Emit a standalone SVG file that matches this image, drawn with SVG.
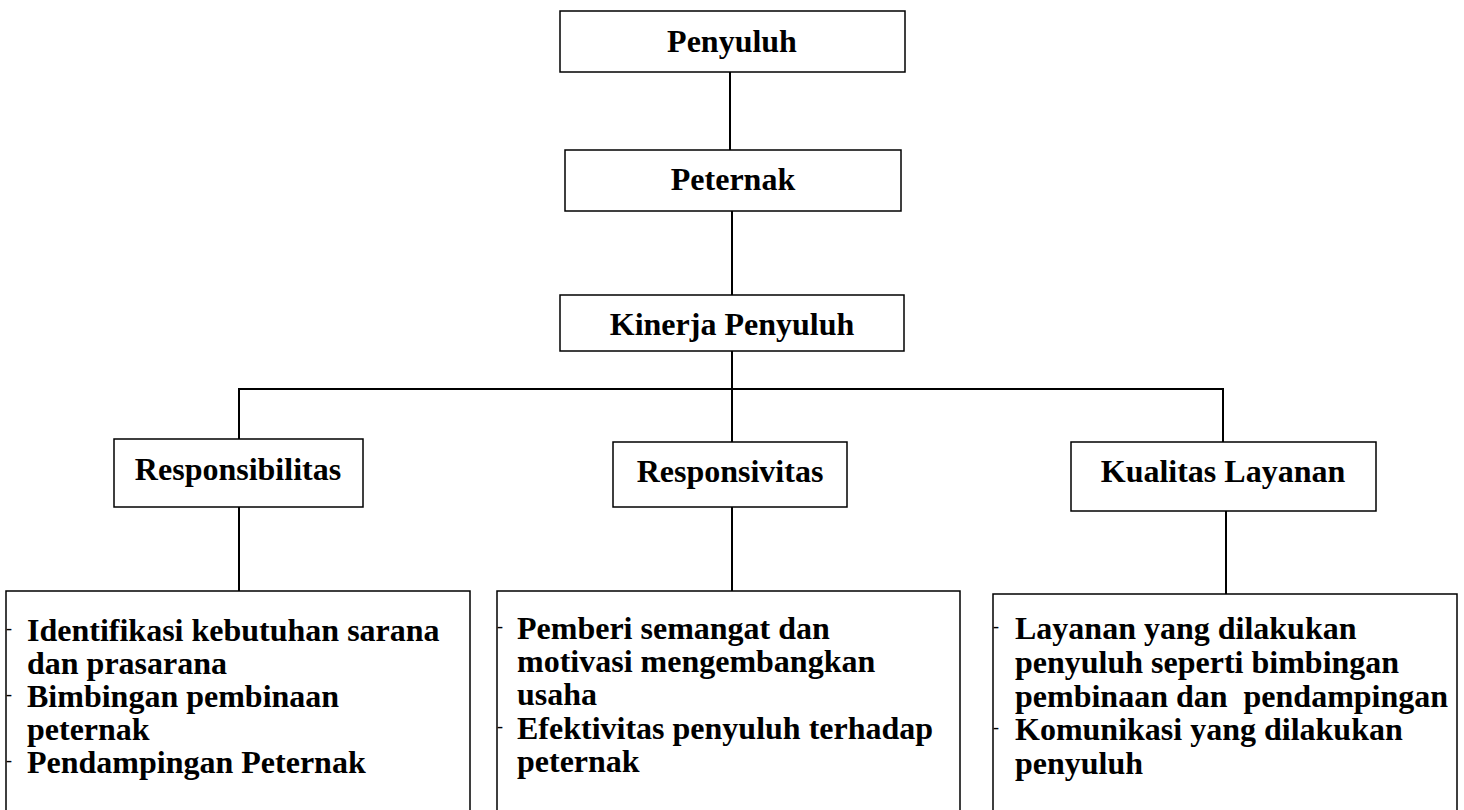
<svg xmlns="http://www.w3.org/2000/svg" width="1464" height="810" viewBox="0 0 1464 810">
<style>
.box{fill:#fff;stroke:#000;stroke-width:1.5}
.open{fill:#fff;stroke:#000;stroke-width:1.5}
.t{font-family:"Liberation Serif","Times New Roman",serif;font-weight:bold;font-size:32px;fill:#000}
.d{font-family:"Liberation Serif","Times New Roman",serif;font-weight:normal;font-size:18px;fill:#000}
.c{text-anchor:middle}
.ln{stroke:#000;stroke-width:2;fill:none}
</style>
<rect width="1464" height="810" fill="#fff"/>
<g id="connectors">
<path class="ln" d="M730 72 V150"/>
<path class="ln" d="M732 211 V295"/>
<path class="ln" d="M732 351 V442"/>
<path class="ln" d="M239 439 V389 H1223 V442"/>
<path class="ln" d="M239 507 V591"/>
<path class="ln" d="M732 507 V591"/>
<path class="ln" d="M1226 511 V594"/>
</g>
<g id="penyuluh">
<rect class="box" x="560" y="11" width="345" height="61"/>
<text class="t c" x="732" y="52">Penyuluh</text>
</g>
<g id="peternak">
<rect class="box" x="565" y="150" width="336" height="61"/>
<text class="t c" x="733" y="190">Peternak</text>
</g>
<g id="kinerja">
<rect class="box" x="560" y="295" width="344" height="56"/>
<text class="t c" x="732" y="335">Kinerja Penyuluh</text>
</g>
<g id="responsibilitas">
<rect class="box" x="114" y="439" width="249" height="68"/>
<text class="t c" x="238" y="480">Responsibilitas</text>
</g>
<g id="responsivitas">
<rect class="box" x="613" y="442" width="234" height="65"/>
<text class="t c" x="730" y="482">Responsivitas</text>
</g>
<g id="kualitas">
<rect class="box" x="1071" y="442" width="305" height="69"/>
<text class="t c" x="1223" y="482">Kualitas Layanan</text>
</g>
<g id="detail-responsibilitas">
<path class="open" d="M6 820 V591 H470 V820"/>
<text class="d" x="6" y="634">-</text>
<text class="t" x="27" y="641">Identifikasi kebutuhan sarana</text>
<text class="t" x="27" y="674">dan prasarana</text>
<text class="d" x="6" y="700">-</text>
<text class="t" x="27" y="707">Bimbingan pembinaan</text>
<text class="t" x="27" y="740">peternak</text>
<text class="d" x="6" y="766">-</text>
<text class="t" x="27" y="773">Pendampingan Peternak</text>
</g>
<g id="detail-responsivitas">
<path class="open" d="M497 820 V591 H960 V820"/>
<text class="d" x="497" y="632">-</text>
<text class="t" x="517" y="639">Pemberi semangat dan</text>
<text class="t" x="517" y="672">motivasi mengembangkan</text>
<text class="t" x="517" y="705">usaha</text>
<text class="d" x="497" y="732">-</text>
<text class="t" x="517" y="739">Efektivitas penyuluh terhadap</text>
<text class="t" x="517" y="772">peternak</text>
</g>
<g id="detail-kualitas">
<path class="open" d="M993 820 V594 H1457 V820"/>
<text class="d" x="993" y="632">-</text>
<text class="t" x="1015" y="639">Layanan yang dilakukan</text>
<text class="t" x="1015" y="673">penyuluh seperti bimbingan</text>
<text class="t" x="1015" y="707" xml:space="preserve">pembinaan dan  pendampingan</text>
<text class="d" x="993" y="733">-</text>
<text class="t" x="1015" y="740">Komunikasi yang dilakukan</text>
<text class="t" x="1015" y="774">penyuluh</text>
</g>
</svg>
